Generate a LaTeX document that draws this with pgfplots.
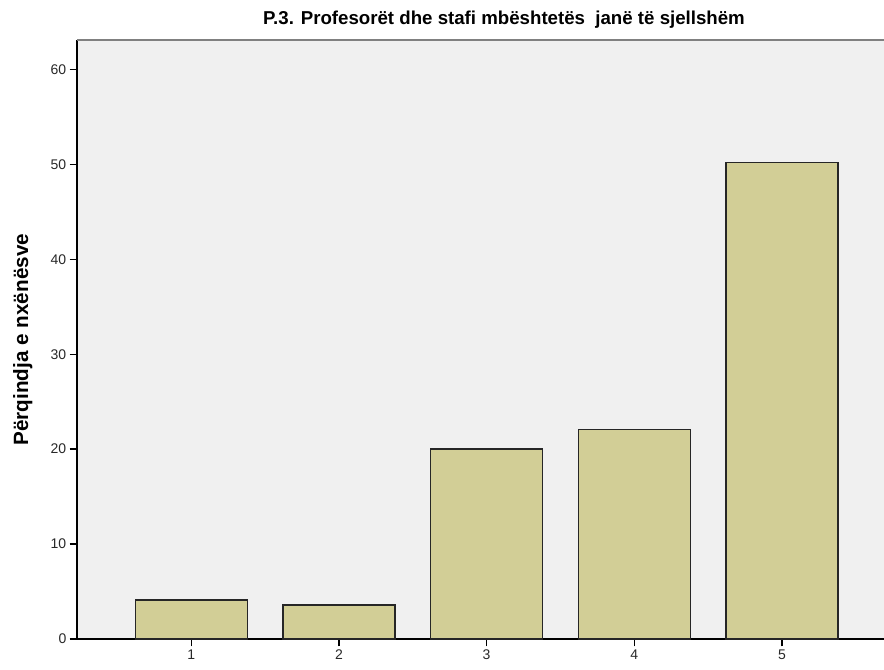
\documentclass[border=0pt]{standalone}
\usepackage{fontspec}
\setmainfont{Liberation Sans}
\usepackage{pgfplots}
\pgfplotsset{compat=1.18}
\definecolor{bgc}{RGB}{240,240,240}
\definecolor{barc}{RGB}{210,206,150}
\definecolor{tickc}{RGB}{40,40,40}
\begin{document}
\begin{tikzpicture}
\path[use as bounding box] (0,0) rectangle (663pt,501.75pt);
\begin{axis}[
  at={(57.75pt,22.5pt)}, anchor=south west,
  scale only axis, width=605.25pt, height=449.25pt,
  ybar, bar width=84pt,
  xmin=0.227, xmax=5.69, ymin=0, ymax=63.1,
  xtick={1,2,3,4,5}, ytick={0,10,20,30,40,50,60},
  axis x line*=bottom, axis y line*=left,
  axis line style={black, line width=1pt},
  axis background/.style={fill=bgc},
  tick align=outside, major tick length=5.5pt,
  tick style={black, line width=1pt},
  ticklabel style={font=\fontsize{10.5}{12}\selectfont, text=tickc},
  xticklabel style={yshift=1pt},
  yticklabel style={xshift=1pt},
  /pgf/number format/assume math mode=true,
  clip=false,
]
\addplot[fill=barc, draw=black!85, line width=1pt] coordinates {(1,4.1) (2,3.6) (3,20.0) (4,22.1) (5,50.2)};
\draw[gray, line width=1.2pt] (rel axis cs:0,1) -- (rel axis cs:1,1);
\end{axis}
\node[font=\bfseries\fontsize{14}{16}\selectfont, anchor=center] at (378pt,487pt) {P.3. Profesorët dhe stafi mbështetës\ \ janë të sjellshëm};
\node[font=\bfseries\fontsize{15.5}{17}\selectfont, rotate=90, anchor=center] at (17pt,247pt) {Përqindja e nxënësve};
\end{tikzpicture}
\end{document}
